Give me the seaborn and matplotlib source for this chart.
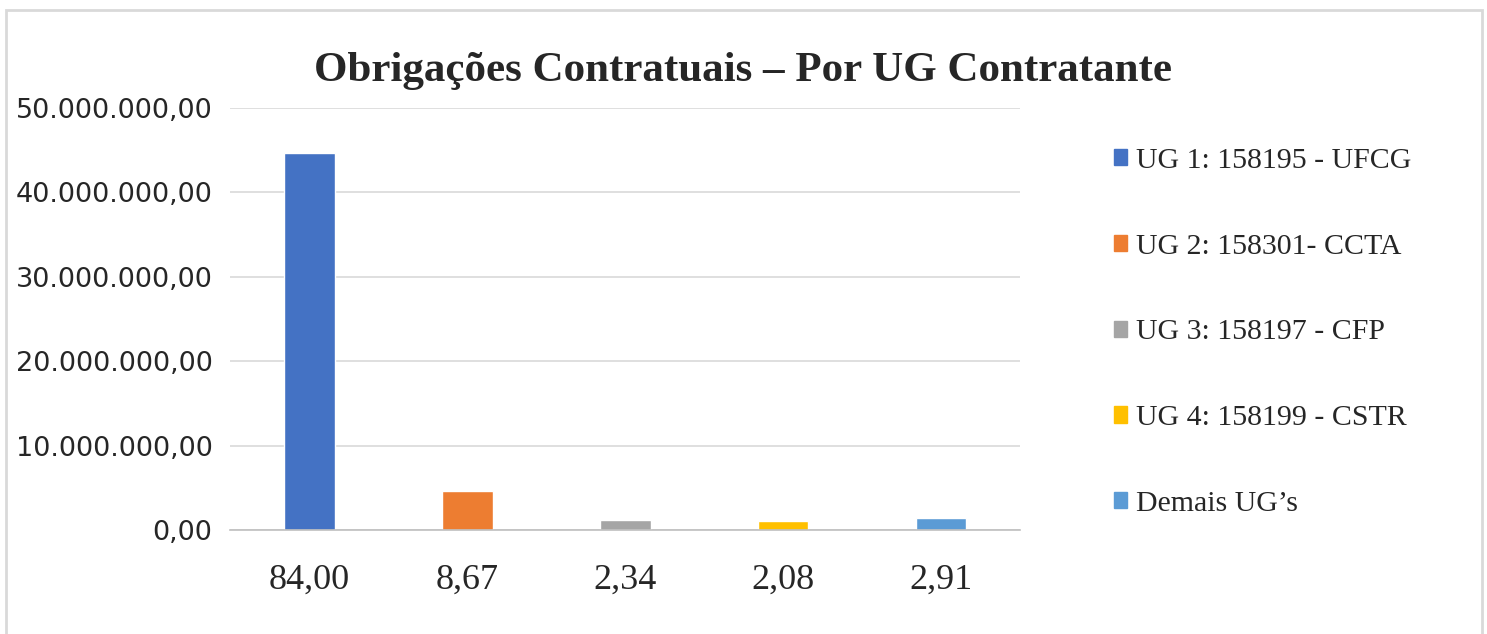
import matplotlib
matplotlib.use("Agg")
import matplotlib.pyplot as plt
import matplotlib.patches as mpatches
import pandas as pd
import seaborn as sns
from matplotlib.ticker import FuncFormatter

# values (R$) and the share labels on the x axis
ug_labels = [
    "UG 1: 158195 - UFCG",
    "UG 2: 158301- CCTA",
    "UG 3: 158197 - CFP",
    "UG 4: 158199 - CSTR",
    "Demais UG\u2019s",
]
pct_labels = ["84,00", "8,67", "2,34", "2,08", "2,91"]
values = [44_700_000, 4_660_000, 1_130_000, 1_100_000, 1_380_000]
colors = ["#4472C4", "#ED7D31", "#A5A5A5", "#FFC000", "#5B9BD5"]


def br_fmt(v, _pos):
    s = f"{v:,.2f}"
    return s.replace(",", "X").replace(".", ",").replace("X", ".")


df = pd.DataFrame({"ug": ug_labels, "pct": pct_labels, "valor": values})

sns.set_style("white")
fig = plt.figure(figsize=(14.87, 6.34), dpi=100)
ax = fig.add_axes([0.155, 0.164, 0.531, 0.666])

sns.barplot(
    data=df, x="pct", y="valor", hue="ug", palette=colors, saturation=1,
    dodge=False, width=0.32, legend=False, ax=ax,
)

ax.set_ylim(0, 50_000_000)
ax.set_yticks(range(0, 50_000_001, 10_000_000))
ax.yaxis.set_major_formatter(FuncFormatter(br_fmt))
ax.grid(axis="y", color="#d9d9d9", linewidth=1.2)
ax.set_axisbelow(True)
for side in ["top", "right", "left"]:
    ax.spines[side].set_visible(False)
ax.spines["bottom"].set_color("#bfbfbf")
ax.spines["bottom"].set_linewidth(1.2)
ax.tick_params(axis="both", length=0)
ax.tick_params(axis="y", labelsize=19.5, pad=13, labelcolor="#262626")
ax.tick_params(axis="x", pad=24, labelcolor="#262626")
for lbl in ax.get_yticklabels():
    lbl.set_family("DejaVu Sans")
for lbl in ax.get_xticklabels():
    lbl.set_family("Liberation Serif")
    lbl.set_fontsize(26)
ax.set_xlabel("")
ax.set_ylabel("")

fig.text(0.5, 0.888, "Obrigações Contratuais \u2013 Por UG Contratante",
         ha="center", va="center", fontsize=31, fontweight="bold",
         family="Liberation Serif")

handles = [mpatches.Patch(color=c, label=l) for c, l in zip(colors, ug_labels)]
fig.legend(
    handles=handles, loc="upper left", bbox_to_anchor=(0.731, 0.809),
    frameon=False, prop={"family": "Liberation Serif", "size": 21.5},
    handlelength=0.45, handleheight=0.45, handletextpad=0.3, labelspacing=2.0,
    labelcolor="#262626",
)

# light frame around the chart area
fig.patches.append(mpatches.Rectangle(
    (6 / 1487, -0.01), 1476 / 1487, 1 - 10 / 634 + 0.01,
    transform=fig.transFigure, fill=False, edgecolor="#d9d9d9", linewidth=2,
))

fig.savefig("out.png", dpi=100)
